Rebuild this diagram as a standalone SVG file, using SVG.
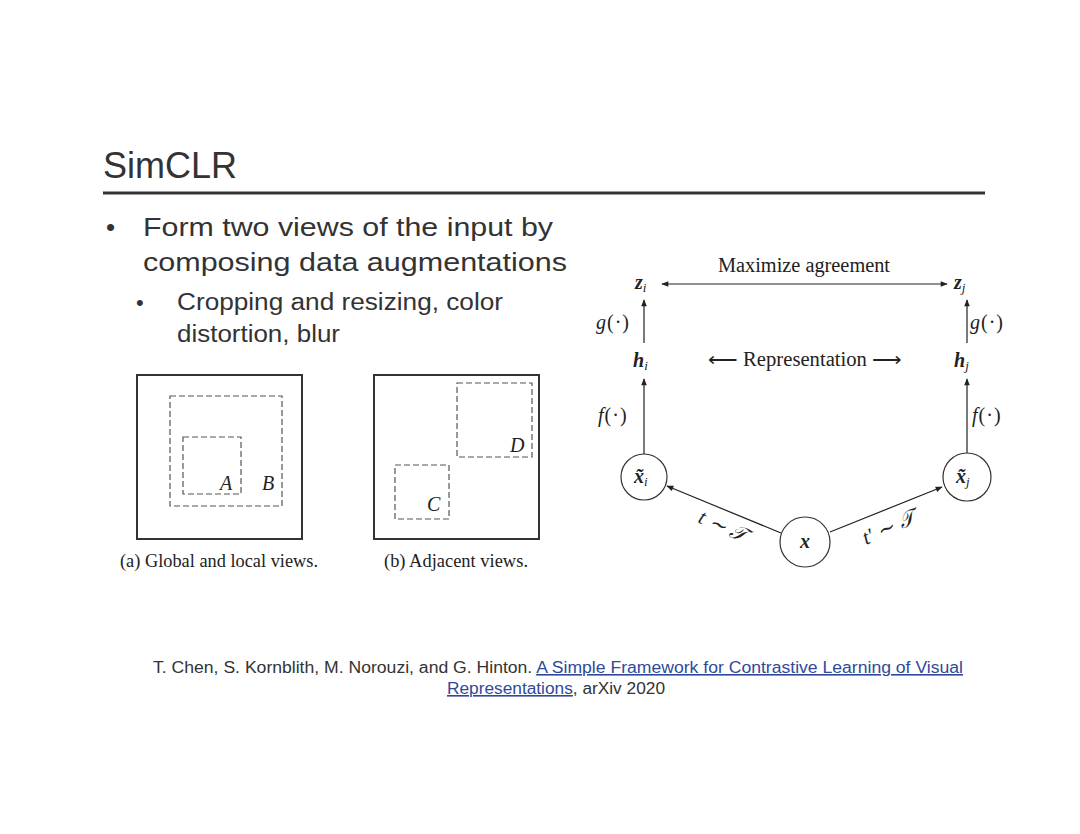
<svg xmlns="http://www.w3.org/2000/svg" width="1080" height="834" viewBox="0 0 1080 834">
<style>
.sans{font-family:"Liberation Sans",Arial,sans-serif;fill:#333}
.serif{font-family:"Liberation Serif","Times New Roman",serif;fill:#222}
.m{font-family:"Liberation Serif","Times New Roman",serif;font-style:italic;fill:#222}
.mb{font-family:"Liberation Serif","Times New Roman",serif;font-style:italic;font-weight:bold;fill:#222}
.sub{font-size:13px;font-weight:normal}
.box{fill:none;stroke:#333;stroke-width:2}
.dash{fill:none;stroke:#555;stroke-width:1.2;stroke-dasharray:6 3}
.ln{stroke:#222;stroke-width:1.2;fill:none}
.circ{fill:#fff;stroke:#333;stroke-width:1.2}
</style>
<defs>
<marker id="ah" viewBox="0 0 10 10" refX="9" refY="5" markerWidth="8" markerHeight="7" markerUnits="userSpaceOnUse" orient="auto-start-reverse">
<path d="M0,1 L10,5 L0,9 Z" fill="#222"/>
</marker>
</defs>
<rect width="1080" height="834" fill="#fff"/>

<g id="title">
<text class="sans" x="103" y="178" font-size="36">SimCLR</text>
<line x1="103" y1="193" x2="985" y2="193" stroke="#333" stroke-width="3"/>
</g>

<g id="bullets">
<text class="sans" x="106" y="236" font-size="26">•</text>
<text class="sans" x="143" y="236" font-size="26" textLength="410" lengthAdjust="spacingAndGlyphs">Form two views of the input by</text>
<text class="sans" x="143" y="271" font-size="26" textLength="424" lengthAdjust="spacingAndGlyphs">composing data augmentations</text>
<text class="sans" x="136" y="310" font-size="22">•</text>
<text class="sans" x="177" y="310" font-size="23" textLength="326" lengthAdjust="spacingAndGlyphs">Cropping and resizing, color</text>
<text class="sans" x="177" y="342" font-size="23" textLength="163" lengthAdjust="spacingAndGlyphs">distortion, blur</text>
</g>

<g id="fig-a">
<rect class="box" x="137" y="375" width="165" height="164"/>
<rect class="dash" x="170" y="396" width="112" height="110"/>
<rect class="dash" x="183" y="437" width="58" height="57"/>
<text class="m" x="220" y="490" font-size="20">A</text>
<text class="m" x="262" y="490" font-size="20">B</text>
<text class="serif" x="120" y="567" font-size="18" textLength="198" lengthAdjust="spacingAndGlyphs">(a) Global and local views.</text>
</g>

<g id="fig-b">
<rect class="box" x="374" y="375" width="165" height="164"/>
<rect class="dash" x="457" y="383" width="75" height="74"/>
<rect class="dash" x="395" y="465" width="54" height="54"/>
<text class="m" x="510" y="452" font-size="20">D</text>
<text class="m" x="427" y="511" font-size="20">C</text>
<text class="serif" x="384" y="567" font-size="18" textLength="144" lengthAdjust="spacingAndGlyphs">(b) Adjacent views.</text>
</g>

<g id="connectors">
<line class="ln" x1="662" y1="284" x2="947" y2="284" marker-start="url(#ah)" marker-end="url(#ah)"/>
<line class="ln" x1="644" y1="343" x2="644" y2="300" marker-end="url(#ah)"/>
<line class="ln" x1="967" y1="343" x2="967" y2="300" marker-end="url(#ah)"/>
<line class="ln" x1="644" y1="454" x2="644" y2="379" marker-end="url(#ah)"/>
<line class="ln" x1="967" y1="453" x2="967" y2="379" marker-end="url(#ah)"/>
<line class="ln" x1="781" y1="533" x2="667" y2="486" marker-end="url(#ah)"/>
<line class="ln" x1="830" y1="532" x2="942" y2="487" marker-end="url(#ah)"/>
</g>

<g id="labels">
<text class="serif" x="804" y="272" font-size="20" textLength="172" lengthAdjust="spacingAndGlyphs" text-anchor="middle">Maximize agreement</text>
<text class="serif" x="805" y="366" font-size="20" textLength="194" lengthAdjust="spacingAndGlyphs" text-anchor="middle">⟵ Representation ⟶</text>
<text class="m" x="596" y="329" font-size="20" letter-spacing="1">g<tspan font-style="normal">(·)</tspan></text>
<text class="m" x="970" y="329" font-size="20" letter-spacing="1">g<tspan font-style="normal">(·)</tspan></text>
<text class="m" x="598" y="422" font-size="20" letter-spacing="1">f<tspan font-style="normal">(·)</tspan></text>
<text class="m" x="972" y="422" font-size="20" letter-spacing="1">f<tspan font-style="normal">(·)</tspan></text>
<text class="m" font-size="21" transform="translate(697 522) rotate(24)">t ∼ <tspan font-family="'DejaVu Serif',serif">𝒯</tspan></text>
<text class="m" font-size="21" transform="translate(866 545) rotate(-24)">t′ ∼ <tspan font-family="'DejaVu Serif',serif">𝒯</tspan></text>
</g>

<g id="node-zi"><text class="mb" x="635" y="289" font-size="20">z<tspan class="sub" dy="3">i</tspan></text></g>
<g id="node-zj"><text class="mb" x="954" y="289" font-size="20">z<tspan class="sub" dy="3">j</tspan></text></g>
<g id="node-hi"><text class="mb" x="633" y="367" font-size="20">h<tspan class="sub" dy="3">i</tspan></text></g>
<g id="node-hj"><text class="mb" x="954" y="367" font-size="20">h<tspan class="sub" dy="3">j</tspan></text></g>

<g id="node-xi">
<circle class="circ" cx="644" cy="477" r="23"/>
<text class="mb" x="634" y="483" font-size="20">x̃<tspan class="sub" dy="3">i</tspan></text>
</g>
<g id="node-xj">
<circle class="circ" cx="967" cy="477" r="24"/>
<text class="mb" x="956" y="483" font-size="20">x̃<tspan class="sub" dy="3">j</tspan></text>
</g>
<g id="node-x">
<circle class="circ" cx="805" cy="542" r="25"/>
<text class="mb" x="805" y="548" font-size="20" text-anchor="middle">x</text>
</g>

<g id="footer">
<text class="sans" x="153" y="673" font-size="16" textLength="810" lengthAdjust="spacingAndGlyphs">T. Chen, S. Kornblith, M. Norouzi, and G. Hinton. <tspan fill="#2f4a9a" text-decoration="underline">A Simple Framework for Contrastive Learning of Visual </tspan></text>
<text class="sans" x="447" y="694" font-size="16" textLength="218" lengthAdjust="spacingAndGlyphs"><tspan fill="#2f4a9a" text-decoration="underline">Representations</tspan>, arXiv 2020</text>
</g>
</svg>
